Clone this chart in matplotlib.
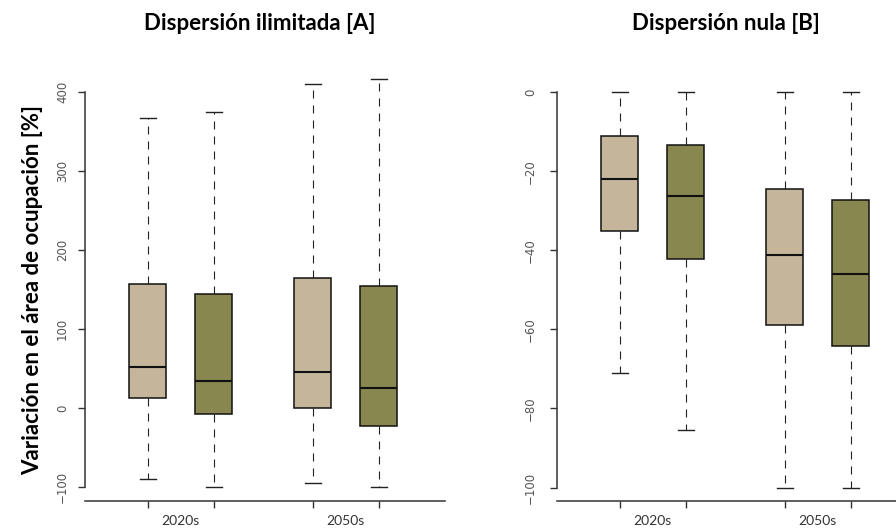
import matplotlib
matplotlib.use("Agg")
import matplotlib.pyplot as plt

# ---- data ----
periods = ["2020s", "2050s"]
box_colors = ["#C4B59B", "#88874F", "#C4B59B", "#88874F"]

# Panel A: Dispersión ilimitada
A_whislo = [-90, -100, -95, -100]
A_q1 = [13, -7, 0, -22]
A_med = [52, 35, 46, 25]
A_q3 = [157, 145, 165, 155]
A_whishi = [367, 375, 410, 417]

# Panel B: Dispersión nula
B_whislo = [-71, -85.5, -100, -100]
B_q1 = [-35.1, -42.3, -58.9, -64.3]
B_med = [-21.9, -26.2, -41.2, -46.0]
B_q3 = [-11.1, -13.3, -24.4, -27.4]
B_whishi = [0, 0, 0, 0]

positions = [1, 2, 3.5, 4.5]
label_pos = [1.5, 4.0]

W, H = 896, 529
fig = plt.figure(figsize=(W / 100, H / 100), dpi=100)


def px_ax(left, bottom_px, width, top_px):
    return [left / W, 1 - bottom_px / H, width / W, (bottom_px - top_px) / H]


TITLE_FONT = "Lato"
AX_COLOR = "#333333"
TICK_COLOR = "#555555"


def make_stats(whislo, q1, med, q3, whishi):
    return [dict(whislo=a, q1=b, med=c, q3=d, whishi=e, fliers=[])
            for a, b, c, d, e in zip(whislo, q1, med, q3, whishi)]


def draw_panel(ax, stats, ylim, yticks, ylab_pad):
    bp = ax.bxp(stats, positions=positions, widths=0.56, capwidths=0.24,
                patch_artist=True, showfliers=False,
                boxprops=dict(edgecolor="#111111", linewidth=1.1),
                medianprops=dict(color="#111111", linewidth=1.5),
                whiskerprops=dict(color="#222222", linewidth=0.8,
                                  linestyle=(0, (7.2, 6.3))),
                capprops=dict(color="#222222", linewidth=1.0))
    for patch, c in zip(bp["boxes"], box_colors):
        patch.set_facecolor(c)
    ax.set_xlim(0.05, 5.5)
    ax.set_ylim(*ylim)
    for s in ["top", "right"]:
        ax.spines[s].set_visible(False)
    ax.spines["left"].set_bounds(min(yticks), max(yticks))
    for s in ["left", "bottom"]:
        ax.spines[s].set_color(AX_COLOR)
        ax.spines[s].set_linewidth(1.1)
    ax.set_yticks(yticks)
    ax.set_yticklabels([str(v).replace("-", "\u2212") for v in yticks],
                       rotation=90, va="center", fontsize=8.5,
                       color=TICK_COLOR, family="DejaVu Sans")
    ax.tick_params(axis="y", length=5, width=1.0, color=AX_COLOR, pad=ylab_pad)
    ax.set_xticks(positions)
    ax.set_xticklabels([])
    ax.tick_params(axis="x", which="major", length=5, width=1.0, color=AX_COLOR)
    ax.set_xticks(label_pos, minor=True)
    ax.set_xticklabels(periods, minor=True, fontsize=10, color="#333333",
                       family=TITLE_FONT)
    ax.tick_params(axis="x", which="minor", length=0, pad=10)


axA = fig.add_axes(px_ax(85, 501, 360, 60))
draw_panel(axA, make_stats(A_whislo, A_q1, A_med, A_q3, A_whishi),
           (-117.4, 440.4), [-100, 0, 100, 200, 300, 400], 6.5)

axB = fig.add_axes(px_ax(557, 501, 360, 60))
draw_panel(axB, make_stats(B_whislo, B_q1, B_med, B_q3, B_whishi),
           (-103.4, 8.1), [-100, -80, -60, -40, -20, 0], 9.5)

fig.text(260 / W, 1 - 24 / H, "Dispersión ilimitada [A]", ha="center",
         va="center", fontsize=16, fontweight="bold", family=TITLE_FONT)
fig.text(726 / W, 1 - 24 / H, "Dispersión nula [B]", ha="center",
         va="center", fontsize=16, fontweight="bold", family=TITLE_FONT)
fig.text(33 / W, 1 - 290 / H, "Variación en el área de ocupación [%]",
         rotation=90, ha="center", va="center", fontsize=16,
         fontweight="bold", family=TITLE_FONT)

fig.savefig("out.png", dpi=100)
